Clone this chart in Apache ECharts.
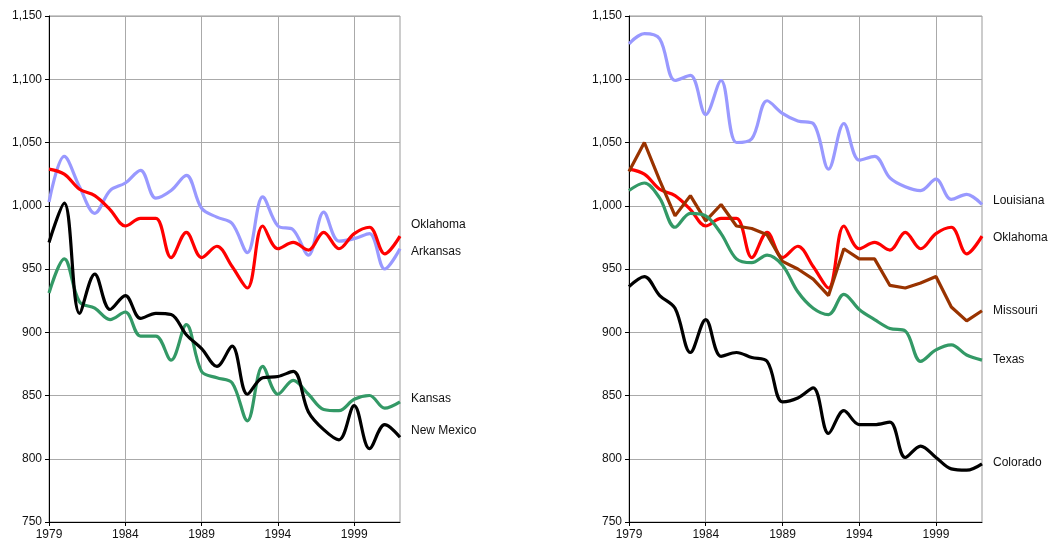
<!DOCTYPE html>
<html>
<head>
<meta charset="utf-8">
<script src="https://cdn.jsdelivr.net/npm/echarts@6/dist/echarts.min.js"></script>
<style>
html,body{margin:0;padding:0;background:#fff;}
#c{width:1050px;height:548px;}
</style>
</head>
<body>
<div id="c"></div>
<script>
const years = [1979,1980,1981,1982,1983,1984,1985,1986,1987,1988,1989,1990,1991,1992,1993,1994,1995,1996,1997,1998,1999,2000,2001,2002];
const yTicks = [750,800,850,900,950,1000,1050,1100,1150];

const oklahoma  = [1029,1025,1013,1008,997,984,990,990,959,979,959,968,952,935,984,966,971,965,979,966,978,983,962,976];
const arkansas  = [1003,1039,1015,994,1012,1018,1028,1006,1012,1024,998,991,986,963,1007,984,981,961,995,972,974,978,950,966];
const kansas    = [931,958,924,919,910,916,897,897,878,906,869,864,860,830,873,851,862,851,839,838,847,850,840,845];
const newMexico = [971,1002,915,946,918,929,911,915,914,898,887,873,889,851,864,865,869,837,823,815,842,808,827,817];

const louisiana = [1128,1136,1132,1099,1103,1072,1099,1050,1053,1083,1073,1067,1065,1029,1065,1036,1039,1022,1015,1012,1021,1005,1009,1001];
const missouri  = [1027,1050,1020,992,1008,988,1001,984,982,977,956,950,942,929,966,958,958,937,935,939,944,920,909,917];
const texas     = [1012,1018,1006,983,994,992,978,958,955,961,953,932,919,914,930,918,910,903,901,877,886,890,882,878];
const colorado  = [936,944,929,919,884,910,881,884,880,877,845,848,856,820,838,827,827,829,801,810,801,792,791,796];

const FONT = '"Liberation Sans", Arial, sans-serif';
const grids = [
  {left:49, right:650, top:16, bottom:26, show:true, borderColor:'#999', borderWidth:1},
  {left:629, right:68, top:16, bottom:26, show:true, borderColor:'#999', borderWidth:1}
];
function xAx(i){
  return {type:'category', gridIndex:i, data:years.map(String), boundaryGap:false,
    axisLine:{lineStyle:{color:'#000',width:1}},
    axisTick:{interval:4, length:4, lineStyle:{color:'#000'}},
    axisLabel:{interval:4, color:'#111', fontFamily:FONT, fontSize:12, margin:7},
    splitLine:{show:true, interval:4, lineStyle:{color:'#aaa',width:1}}};
}
function yAx(i){
  return {type:'value', gridIndex:i, min:yTicks[0], max:yTicks[yTicks.length-1], interval:50,
    axisLine:{show:true, lineStyle:{color:'#000',width:1}},
    axisTick:{show:true, length:4, lineStyle:{color:'#000'}},
    axisLabel:{color:'#111', fontFamily:FONT, fontSize:12, margin:7,
      formatter:v=>v.toLocaleString('en-US')},
    splitLine:{show:true, lineStyle:{color:'#aaa',width:1}}};
}
function ser(name, data, color, gi, dy, smooth){
  return {name, type:'line', xAxisIndex:gi, yAxisIndex:gi, data,
    smooth: smooth===false ? false : 0.35, symbol:'none',
    lineStyle:{color, width:3.2}, itemStyle:{color},
    endLabel:{show:true, formatter:name, color:'#111', fontFamily:FONT, fontSize:12,
      distance:11, offset:[0,dy]}};
}
const chart = echarts.init(document.getElementById('c'), null, {renderer:'canvas'});
chart.setOption({
  animation:false,
  backgroundColor:'#fff',
  grid:grids,
  xAxis:[xAx(0), xAx(1)],
  yAxis:[yAx(0), yAx(1)],
  series:[
    ser('Arkansas', arkansas, '#9999FF', 0, 3),
    ser('Oklahoma', oklahoma, '#FF0000', 0, -11),
    ser('Kansas', kansas, '#339966', 0, -3),
    ser('New Mexico', newMexico, '#000000', 0, -7),
    ser('Louisiana', louisiana, '#9999FF', 1, -4),
    ser('Oklahoma', oklahoma, '#FF0000', 1, 2),
    ser('Missouri', missouri, '#993300', 1, 0, false),
    ser('Texas', texas, '#339966', 1, 0),
    ser('Colorado', colorado, '#000000', 1, -1)
  ]
});
</script>
</body>
</html>
